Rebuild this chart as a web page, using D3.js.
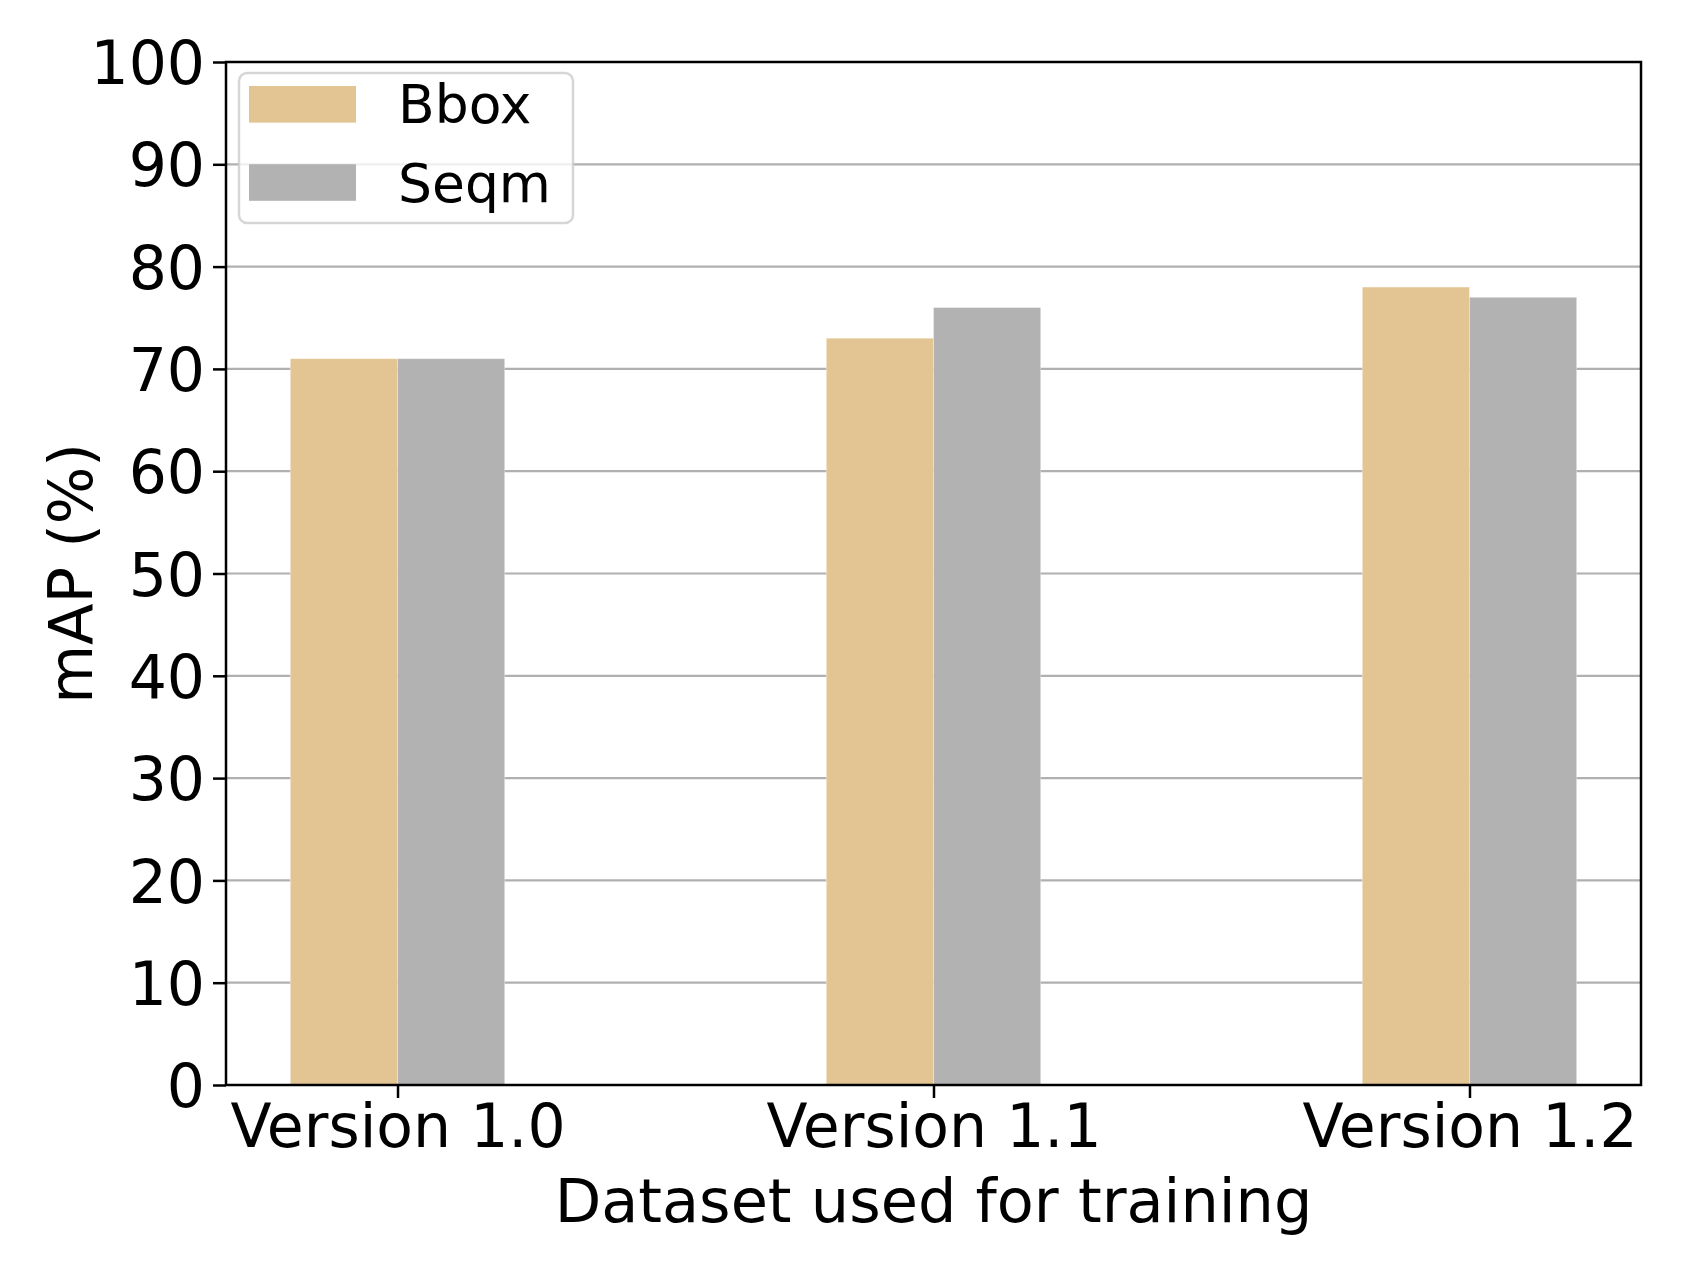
<!DOCTYPE html>
<html>
<head>
<meta charset="utf-8">
<script src="https://cdn.jsdelivr.net/npm/d3@7"></script>
<style>
	body { margin: 0; background: #fff; }
	text { font-family: "DejaVu Sans", sans-serif; fill: #000; }
</style>
</head>
<body>
<script>
const categories = ["Version 1.0", "Version 1.1", "Version 1.2"];
const series = ["Bbox", "Seqm"];
const bbox_values = [71, 73, 78];
const seqm_values = [71, 76, 77];
const colors = ["#e3c493", "#b2b2b2"];
const y_ticks = [0, 10, 20, 30, 40, 50, 60, 70, 80, 90, 100];

const W = 1688, H = 1264;
const m_left = 226, m_right = 1641, m_top = 62, m_bottom = 1085;
const barw = 0.2;

const svg = d3.select("body").append("svg")
	.attr("width", W)
	.attr("height", H);

const x = d3.scaleLinear()
	.domain([-0.32, 2.32])
	.range([m_left, m_right]);

const y = d3.scaleLinear()
	.domain([0, 100])
	.range([m_bottom, m_top]);

// grid, behind bars
svg.append("g")
	.selectAll("line")
	.data(y_ticks)
	.enter().append("line")
	.attr("x1", m_left)
	.attr("x2", m_right)
	.attr("y1", d => y(d))
	.attr("y2", d => y(d))
	.attr("stroke", "#b0b0b0")
	.attr("stroke-width", 2.2);

const values = [bbox_values, seqm_values];

values.forEach((vals, s) => {
	svg.append("g")
		.selectAll("rect")
		.data(vals)
		.enter().append("rect")
		.attr("x", (d, i) => x(i - barw + s * barw))
		.attr("width", x(barw) - x(0))
		.attr("y", d => y(d))
		.attr("height", d => y(0) - y(d))
		.attr("fill", colors[s])
		.attr("stroke", "#fff")
		.attr("stroke-opacity", 0.35)
		.attr("stroke-width", 1);
});

// y axis
const ya = svg.append("g")
	.attr("transform", `translate(${m_left},0)`)
	.call(d3.axisLeft(y).tickValues(y_ticks).tickSize(13).tickPadding(8).tickFormat(d3.format("d")));

// x axis
const xa = svg.append("g")
	.attr("transform", `translate(0,${m_bottom})`)
	.call(d3.axisBottom(x).tickValues([0, 1, 2]).tickSize(13).tickPadding(5).tickFormat(i => categories[i]));

for (let a of [ya, xa]) {
	a.select(".domain").remove();
	a.selectAll(".tick line").attr("stroke", "#000").attr("stroke-width", 2.5);
	a.selectAll(".tick text").attr("font-size", 60).attr("fill", "#000");
}
ya.selectAll(".tick text").attr("dy", "0.36em");
xa.selectAll(".tick text").attr("dy", "0.73em");

// frame
svg.append("rect")
	.attr("x", m_left)
	.attr("y", m_top)
	.attr("width", m_right - m_left)
	.attr("height", m_bottom - m_top)
	.attr("fill", "none")
	.attr("stroke", "#000")
	.attr("stroke-width", 2.5);

// axis titles
svg.append("text")
	.attr("x", (m_left + m_right) / 2)
	.attr("y", 1222)
	.attr("text-anchor", "middle")
	.attr("font-size", 60.5)
	.text("Dataset used for training");

svg.append("text")
	.attr("transform", `translate(92,${(m_top + m_bottom) / 2})rotate(-90)`)
	.attr("text-anchor", "middle")
	.attr("font-size", 60.5)
	.text("mAP (%)");

// legend
const lg = svg.append("g");
lg.append("rect")
	.attr("x", 239)
	.attr("y", 73)
	.attr("width", 334)
	.attr("height", 150)
	.attr("rx", 8)
	.attr("fill", "#fff")
	.attr("fill-opacity", 0.8)
	.attr("stroke", "#cccccc")
	.attr("stroke-opacity", 0.8)
	.attr("stroke-width", 2.5);

series.forEach((name, s) => {
	const cy = 104.3 + s * 78.2;
	lg.append("rect")
		.attr("x", 249)
		.attr("y", cy - 18.3)
		.attr("width", 107)
		.attr("height", 36.6)
		.attr("fill", colors[s]);
	lg.append("text")
		.attr("x", 398)
		.attr("y", cy + 19)
		.attr("font-size", 53.5)
		.text(name);
});
</script>
</body>
</html>
